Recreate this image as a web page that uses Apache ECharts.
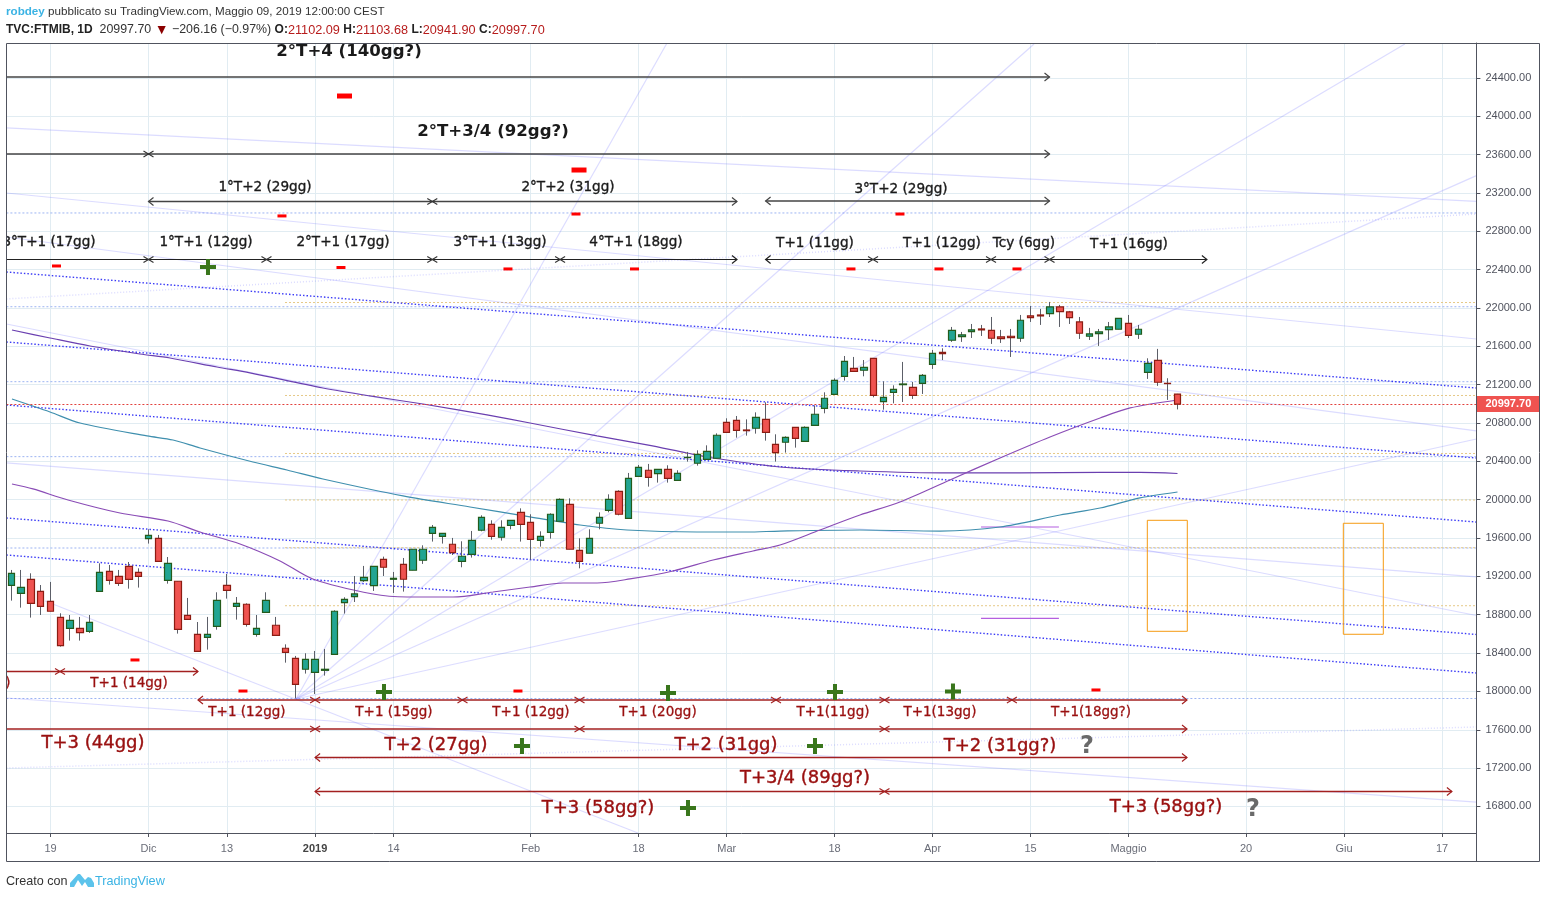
<!DOCTYPE html>
<html>
<head>
<meta charset="utf-8">
<title>FTMIB</title>
<script src="https://cdn.jsdelivr.net/npm/echarts@6/dist/echarts.min.js"></script>
<style>
html, body { margin: 0; padding: 0; background: #fff; }
#main { width: 1546px; height: 898px; }
</style>
</head>
<body>
<div id="main"></div>
<script>
// bar index on the x axis, one label per tick
var tickIndex = [4, 14, 22, 31, 39, 53, 64, 73, 84, 94, 104, 114, 126, 136, 146];
var tickLabels = ['19', 'Dic', '13', '2019', '14', 'Feb', '18', 'Mar', '18', 'Apr', '15', 'Maggio', '20', 'Giu', '17'];
var priceTicks = [16800, 17200, 17600, 18000, 18400, 18800, 19200, 19600, 20000, 20400, 20800, 21200, 21600, 22000, 22400, 22800, 23200, 23600, 24000, 24400];
var lastPrice = 20997.70;

// open, close, low, high
var candles = [
  [19107,19232,18947,19267],[19023,19086,18874,19267],[19169,18919,18770,19232],[19044,18888,18797,19110],
  [18940,18836,18836,19142],[18773,18478,18467,18815],[18658,18742,18530,18797],[18658,18613,18530,18777],
  [18627,18721,18610,18797],[19044,19242,19044,19336],[19253,19159,19114,19319],[19201,19128,19100,19267],
  [19305,19169,19072,19350],[19242,19201,19083,19284],[19594,19628,19542,19691],[19597,19357,19354,19632],
  [19159,19336,19124,19402],[19149,18648,18603,19149],[18794,18752,18752,18975],[18596,18418,18418,18724],
  [18564,18596,18436,18777],[18679,18950,18644,19034],[19107,19055,18968,19225],[18888,18919,18749,18985],
  [18909,18700,18676,18919],[18596,18658,18571,18797],[18825,18950,18825,19034],[18690,18585,18585,18777],
  [18450,18408,18300,18491],[18345,18074,17928,18370],[18231,18335,18186,18398],[18199,18335,17973,18422],
  [18220,18231,18165,18443],[18387,18836,18387,18846],[18926,18961,18812,18982],[18989,19017,18933,19204],
  [19156,19190,19142,19309],[19104,19305,19048,19305],[19378,19295,19204,19406],[19170,19180,19027,19246],
  [19326,19170,19041,19392],[19264,19483,19264,19483],[19368,19483,19330,19524],[19649,19712,19563,19736],
  [19618,19649,19542,19649],[19535,19448,19423,19601],[19357,19410,19295,19566],[19430,19576,19396,19674],
  [19681,19816,19670,19837],[19743,19618,19583,19785],[19608,19712,19573,19785],[19733,19785,19691,19785],
  [19868,19743,19563,19910],[19764,19587,19375,19848],[19576,19618,19510,19670],[19660,19848,19594,19858],
  [19775,20004,19775,20014],[19952,19483,19483,20014],[19472,19357,19284,19597],[19441,19597,19441,19691],
  [19754,19816,19691,19868],[19889,20004,19868,20056],[20087,19848,19837,20098],[19806,20223,19806,20279],
  [20244,20338,20244,20362],[20307,20233,20136,20373],[20272,20317,20178,20317],[20317,20223,20178,20359],
  [20202,20275,20202,20307],[20439,20442,20397,20498],[20380,20473,20355,20515],[20421,20505,20421,20567],
  [20432,20672,20432,20692],[20807,20703,20703,20849],[20828,20724,20647,20873],[20727,20720,20668,20838],
  [20745,20859,20689,20911],[20838,20703,20616,21016],[20578,20491,20397,20682],[20599,20651,20491,20661],
  [20755,20640,20543,20755],[20609,20755,20609,20765],[20776,20891,20776,20984],[20953,21058,20901,21120],
  [21099,21245,21099,21266],[21287,21443,21242,21499],[21370,21339,21339,21489],[21350,21381,21287,21457],
  [21475,21089,21068,21475],[21023,21068,20939,21235],[21120,21151,21005,21193],[21200,21207,21019,21437],
  [21172,21089,21051,21228],[21214,21297,21103,21311],[21412,21527,21364,21562],[21537,21523,21457,21579],
  [21663,21767,21646,21802],[21701,21719,21646,21750],[21753,21771,21687,21833],[21781,21771,21708,21823],
  [21767,21684,21625,21906],[21698,21680,21635,21771],[21705,21691,21489,21781],[21684,21872,21646,21927],
  [21917,21899,21854,22021],[21927,21917,21823,21990],[21941,22011,21906,22063],[22011,21962,21802,22032],
  [21959,21899,21833,21969],[21854,21736,21677,21906],[21705,21729,21666,21792],[21733,21750,21604,21781],
  [21774,21802,21666,21854],[21778,21892,21778,21892],[21840,21715,21687,21927],[21726,21778,21677,21823],
  [21329,21423,21260,21475],[21454,21225,21187,21573],[21214,21211,21041,21267],[21102.09,20997.70,20941.90,21103.68]
];

// moving averages, [bar, price]
var maLong = [[0.07,21770],[3.95,21687],[8.03,21603],[13.13,21520],[16.19,21478],[20.99,21384],[24.35,21322],[31.8,21165],[36.6,21082],[42.01,20998],[48.54,20884],[52.93,20800],[59.77,20665],[64.87,20571],[68.95,20487],[71.61,20435],[78.44,20341],[86.6,20299],[95.78,20279],[102.92,20279],[111.1,20284],[115.17,20284],[119,20273]];
var maMid = [[0.07,21050],[3.95,20915],[7.01,20800],[13.85,20665],[16.5,20623],[19.26,20539],[24.66,20393],[28.13,20310],[31.8,20216],[39.97,20039],[46.81,19924],[52.93,19820],[58.03,19736],[62.83,19684],[69.97,19663],[75.07,19663],[78.44,19673],[86.6,19684],[94.76,19673],[100.89,19715],[107.01,19840],[111.1,19913],[115.17,20018],[119,20080]];
var maShort = [[0.07,20164],[2.21,20112],[5.79,19997],[11.09,19861],[15.99,19778],[19.26,19663],[23.34,19538],[27.42,19361],[30.77,19173],[36.91,19016],[40.38,18985],[45.07,18985],[49.15,19037],[52.93,19089],[56.3,19131],[59.77,19131],[63.13,19173],[67.52,19256],[71.61,19371],[75.68,19465],[78.44,19527],[82.52,19684],[86.6,19840],[90.68,19976],[95.78,20206],[100.89,20435],[105.99,20654],[111.1,20852],[114.17,20957],[119,21040]];

// drawn trend lines, [bar0, price0, bar1, price1]
var channelLines = [[-0.5,22375,149.5,21165],[-0.5,21645,149.5,20435],[-0.5,20988,149.5,19767],[-0.5,19809,149.5,18594],[-0.5,19423,149.5,18192]];
var paleLines = [
  [-0.5,23878,149.5,23111],[-0.5,23199,149.5,21676],[-0.5,21833,149.5,18792],[-0.5,22740,149.5,20717],[-0.5,20383,149.5,19194],
  [3.44,18943,63.94,16523],[-0.5,17931,149.5,16846],
  [29.05,17921,66.91,24764],[29.05,17921,104.36,24754],[29.05,17921,142.2,24754],[29.05,17921,149.5,23380],[29.05,17921,149.5,20633]
];
var paleDotted = [[-0.5,17201,149.5,17629],[-0.5,22094,149.5,22980]];
var blueLevels = [22991, 22013, 21231, 20449, 19496, 17926];
var yellowLevels = [22057, 21087, 20482, 19997, 19499, 18894];
var yellowStart = 27.93;
var violetSegments = [[98.95,19715,106.9,19715],[98.95,18761,106.9,18761]];
var boxes = [[115.92,19785,120,18627],[135.92,19754,140,18596]];

// time spans, [bar0, bar1, price, arrow at start, arrow at end]
var blackSpansHeavy = [[-0.5,105.94,24410,0,1],[-0.5,105.94,23606,0,1],[14,74.05,23111,1,1],[76.97,105.94,23116,1,1]];
var blackSpans = [[-0.5,74.05,22506,0,1],[76.97,122,22506,1,1]];
var redSpans = [[-0.5,19.05,18208,0,1],[19.05,119.97,17910,1,1],[-0.5,119.97,17608,0,1],[31,119.97,17311,1,1],[31,147,16956,1,1]];
var blackCrosses = [[14,23606],[42.96,23111],[14,22506],[26.04,22506],[42.96,22506],[56,22506],[87.93,22506],[99.97,22506],[105.94,22506]];
var redCrosses = [[4.97,18208],[31,17910],[46.04,17910],[57.98,17910],[78.03,17910],[89.1,17910],[102.1,17910],[31,17608],[57.98,17608],[89.1,17608],[89.1,16956]];

// notes, [bar, price, text]
var blackLarge = [[34.46,24691,'2°T+4 (140gg?)'],[49.15,23857,'2°T+3/4 (92gg?)']];
var blackSmall = [[25.89,23273,'1°T+2 (29gg)'],[56.81,23273,'2°T+2 (31gg)'],[90.79,23262,'3°T+2 (29gg)'],[3.85,22699,'3°T+1 (17gg)'],[19.87,22699,'1°T+1 (12gg)'],[33.85,22699,'2°T+1 (17gg)'],[49.87,22699,'3°T+1 (13gg)'],[63.74,22699,'4°T+1 (18gg)'],[82.01,22694,'T+1 (11gg)'],[94.97,22694,'T+1 (12gg)'],[103.33,22694,'Tcy (6gg)'],[114.05,22688,'T+1 (16gg)']];
var redSmall = [[-0.34,18103,')'],[12.01,18103,'T+1 (14gg)'],[24.05,17801,'T+1 (12gg)'],[39.05,17801,'T+1 (15gg)'],[53.03,17801,'T+1 (12gg)'],[65.99,17801,'T+1 (20gg)'],[83.85,17801,'T+1(11gg)'],[94.76,17801,'T+1(13gg)'],[110.17,17801,'T+1(18gg?)']];
var redLarge = [[8.34,17483,'T+3 (44gg)'],[43.34,17457,'T+2 (27gg)'],[72.93,17457,'T+2 (31gg)'],[100.89,17452,'T+2 (31gg?)'],[80.99,17118,'T+3/4 (89gg?)'],[59.87,16805,'T+3 (58gg?)'],[117.82,16810,'T+3 (58gg?)']];
var questionMarks = [[109.77,17441,'?'],[126.7,16784,'?']];
var minusLarge = [[34,24211],[57.93,23439]];
var minusSmall = [[27.62,22960],[57.62,22980],[90.68,22980],[4.61,22438],[33.64,22422],[50.68,22407],[63.59,22407],[85.68,22407],[94.66,22407],[102.62,22407],[12.62,18328],[23.64,18004],[51.7,18004],[110.68,18015]];
var plusMarks = [[20.07,22428],[38.03,17994],[67.01,17983],[52.11,17431],[82.01,17431],[69.05,16784],[84.05,17994],[96.09,18000]];

var FONT = '"DejaVu Sans"';
var AXIS_FONT = '"Liberation Sans"';

function segmentSeries(rows, style) {
  return rows.map(function (r) {
    return {
      type: 'line', silent: true, showSymbol: false, symbol: 'none', animation: false,
      data: [[r[0], r[1]], [r[2], r[3]]], lineStyle: style, z: 2
    };
  });
}

function maSeries(points, color) {
  return {
    type: 'line', silent: true, showSymbol: false, symbol: 'none', animation: false, smooth: 0.3,
    data: points, lineStyle: { color: color, width: 1.2 }, z: 3
  };
}

function spanSeries(rows, color, width) {
  return {
    type: 'custom', silent: true, animation: false, clip: true, z: 6,
    data: rows,
    encode: { x: [0, 1], y: 2 },
    renderItem: function (params, api) {
      var a = api.coord([api.value(0), api.value(2)]);
      var b = api.coord([api.value(1), api.value(2)]);
      var style = { stroke: color, lineWidth: width, fill: null };
      var kids = [{ type: 'line', shape: { x1: a[0], y1: a[1], x2: b[0], y2: b[1] }, style: style }];
      if (api.value(3)) {
        kids.push({ type: 'polyline', shape: { points: [[a[0] + 5, a[1] - 4], [a[0], a[1]], [a[0] + 5, a[1] + 4]] }, style: { stroke: color, lineWidth: 1.2, fill: null } });
      }
      if (api.value(4)) {
        kids.push({ type: 'polyline', shape: { points: [[b[0] - 5, b[1] - 4], [b[0], b[1]], [b[0] - 5, b[1] + 4]] }, style: { stroke: color, lineWidth: 1.2, fill: null } });
      }
      return { type: 'group', children: kids };
    }
  };
}

function crossSeries(rows, color) {
  return {
    type: 'custom', silent: true, animation: false, clip: true, z: 7,
    data: rows,
    encode: { x: 0, y: 1 },
    renderItem: function (params, api) {
      var c = api.coord([api.value(0), api.value(1)]);
      var style = { stroke: color, lineWidth: 1.1, fill: null };
      return {
        type: 'group', children: [
          { type: 'line', shape: { x1: c[0] - 5, y1: c[1] - 3, x2: c[0] + 5, y2: c[1] + 3 }, style: style },
          { type: 'line', shape: { x1: c[0] - 5, y1: c[1] + 3, x2: c[0] + 5, y2: c[1] - 3 }, style: style }
        ]
      };
    }
  };
}

function noteSeries(rows, color, font, heavy) {
  return {
    type: 'custom', silent: true, animation: false, clip: true, z: 8,
    data: rows.map(function (r) { return [r[0], r[1]]; }),
    encode: { x: 0, y: 1 },
    renderItem: function (params, api) {
      var c = api.coord([api.value(0), api.value(1)]);
      return {
        type: 'text', x: c[0], y: c[1] + 2,
        style: { text: rows[params.dataIndex][2], fill: color, font: font, align: 'center', verticalAlign: 'middle', stroke: color, lineWidth: heavy }
      };
    }
  };
}

function markSeries(rows, symbol, size, color) {
  return {
    type: 'scatter', silent: true, animation: false, symbol: symbol, symbolSize: size,
    data: rows, itemStyle: { color: color, opacity: 1 }, z: 7
  };
}

var wickData = candles.map(function (c, i) { return [i, c[0], c[1], c[2], c[3]]; });
var bodyData = candles.map(function (c, i) {
  return [i, c[0], c[1], Math.min(c[0], c[1]), Math.max(c[0], c[1])];
});

var series = [];
series = series.concat(segmentSeries(blueLevels.map(function (p) { return [-0.5, p, 149.5, p]; }), { color: '#9db4f2', width: 1, type: [2, 2] }));
series = series.concat(segmentSeries(yellowLevels.map(function (p) { return [yellowStart, p, 149.5, p]; }), { color: '#e6c987', width: 1, type: [2, 2] }));
series = series.concat(segmentSeries(paleLines, { color: 'rgba(110,110,255,0.24)', width: 1.2 }));
series = series.concat(segmentSeries(paleDotted, { color: 'rgba(110,110,255,0.24)', width: 1.5, type: [1, 2] }));
series = series.concat(segmentSeries(channelLines, { color: 'rgba(25,25,245,0.85)', width: 1.4, type: [1.5, 2] }));
series = series.concat(segmentSeries(violetSegments, { color: '#b45fe0', width: 1.2 }));
series.push(maSeries(maLong, '#6a3fb0'));
series.push(maSeries(maMid, '#3f8fae'));
series.push(maSeries(maShort, '#8a4cb6'));
series.push({
  type: 'custom', silent: true, animation: false, clip: true, z: 3,
  data: boxes,
  encode: { x: [0, 2], y: [1, 3] },
  renderItem: function (params, api) {
    var a = api.coord([api.value(0), api.value(1)]);
    var b = api.coord([api.value(2), api.value(3)]);
    return {
      type: 'rect', shape: { x: a[0], y: a[1], width: b[0] - a[0], height: b[1] - a[1] },
      style: { stroke: '#f59a12', lineWidth: 1, fill: null }
    };
  }
});
series.push({
  type: 'candlestick', silent: true, animation: false, barWidth: 1, data: wickData, z: 4,
  itemStyle: { color: '#5c5f68', color0: '#5c5f68', borderColor: '#5c5f68', borderColor0: '#5c5f68', borderColorDoji: '#5c5f68', borderWidth: 1 },
  markLine: {
    silent: true, symbol: 'none', animation: false,
    data: [{ yAxis: lastPrice }],
    lineStyle: { color: '#e2403c', width: 1, type: [2, 2] },
    label: {
      position: 'end', distance: 0, formatter: lastPrice.toFixed(2), color: '#fff', backgroundColor: '#ef5350',
      fontFamily: AXIS_FONT, fontSize: 11, fontWeight: 'bold', padding: [3, 7, 2, 9], width: 47, align: 'left'
    }
  }
});
series.push({
  type: 'candlestick', silent: true, animation: false, barWidth: 7, data: bodyData, z: 5,
  itemStyle: { color: '#22a592', color0: '#ef5350', borderColor: '#235b1b', borderColor0: '#8c1c12', borderColorDoji: '#235b1b', borderWidth: 1.2 }
});
series.push(spanSeries(blackSpansHeavy, '#444', 1.5));
series.push(spanSeries(blackSpans, '#222', 1.1));
series.push(spanSeries(redSpans, '#a32020', 1.4));
series.push(crossSeries(blackCrosses, '#333'));
series.push(crossSeries(redCrosses, '#a32020'));
series.push(markSeries(minusLarge, 'rect', [15, 5], '#f00'));
series.push(markSeries(minusSmall, 'rect', [9, 3], '#f00'));
series.push(markSeries(plusMarks, 'path://M6 0H10V6H16V10H10V16H6V10H0V6H6Z', 16, '#39761c'));
series.push(noteSeries(blackLarge, '#1a1a1a', 'bold 16.6px ' + FONT, 0));
series.push(noteSeries(blackSmall, '#1a1a1a', '13.6px ' + FONT, 0.35));
series.push(noteSeries(redSmall, '#990f0f', '13.5px ' + FONT, 0.3));
series.push(noteSeries(redLarge, '#990f0f', '18px ' + FONT, 0.4));
series.push(noteSeries(questionMarks, '#6a6a6a', 'bold 24px ' + FONT, 0));

var chart = echarts.init(document.getElementById('main'), null, { renderer: 'canvas' });
chart.setOption({
  animation: false,
  backgroundColor: '#fff',
  grid: { left: 6.4, top: 43, width: 1470, height: 790 },
  xAxis: {
    type: 'value', min: -0.5, max: 149.5,
    axisLine: { onZero: false, lineStyle: { color: '#50535e', width: 1 } },
    axisTick: { customValues: tickIndex, length: 4, lineStyle: { color: '#50535e' } },
    axisLabel: {
      customValues: tickIndex, margin: 10, color: '#6a6d78', fontFamily: AXIS_FONT, fontSize: 11,
      formatter: function (v) {
        var s = tickLabels[tickIndex.indexOf(v)];
        return s === '2019' ? '{y|' + s + '}' : s;
      },
      rich: { y: { color: '#444', fontFamily: AXIS_FONT, fontSize: 11, fontWeight: 'bold' } }
    },
    splitLine: { show: true, lineStyle: { color: '#e1ecf2', width: 1 } }
  },
  yAxis: {
    type: 'value', position: 'right', min: 16523, max: 24764,
    axisLine: { show: true, onZero: false, lineStyle: { color: '#50535e', width: 1 } },
    axisTick: { show: true, customValues: priceTicks, length: 4, lineStyle: { color: '#50535e' } },
    axisLabel: {
      customValues: priceTicks, margin: 9, color: '#50535e', fontFamily: AXIS_FONT, fontSize: 11,
      formatter: function (v) { return v.toFixed(2); }
    },
    splitLine: { show: true, lineStyle: { color: '#e1ecf2', width: 1 } }
  },
  series: series,
  graphic: [
    { type: 'rect', silent: true, shape: { x: 6.5, y: 43.5, width: 1533, height: 818 }, style: { stroke: '#50535e', lineWidth: 1, fill: null }, z: 20 },
    { type: 'line', silent: true, shape: { x1: 1476.5, y1: 43, x2: 1476.5, y2: 861 }, style: { stroke: '#50535e', lineWidth: 1 }, z: 20 },
    {
      type: 'text', silent: true, x: 6, y: 6,
      style: {
        text: '{u|robdey} pubblicato su TradingView.com, Maggio 09, 2019 12:00:00 CEST',
        font: '11.65px ' + AXIS_FONT, fill: '#333',
        rich: { u: { font: 'bold 11.65px ' + AXIS_FONT, fill: '#3bb3e4' } }
      }
    },
    {
      type: 'text', silent: true, x: 6, y: 23,
      style: {
        text: '{b|TVC:FTMIB, 1D}  20997.70 {d|▼} −206.16 (−0.97%) {b|O:}{r|21102.09} {b|H:}{r|21103.68} {b|L:}{r|20941.90} {b|C:}{r|20997.70}',
        font: '12.4px ' + AXIS_FONT, fill: '#333',
        rich: {
          b: { font: 'bold 12px ' + AXIS_FONT, fill: '#222' },
          r: { font: '12.7px ' + AXIS_FONT, fill: '#b71c1c' },
          d: { font: '14px ' + AXIS_FONT, fill: '#8b0000' }
        }
      }
    },
    { type: 'text', silent: true, x: 6, y: 875, style: { text: 'Creato con', font: '12.6px ' + AXIS_FONT, fill: '#333' } },
    {
      type: 'polygon', silent: true,
      shape: { points: [[70, 887], [70, 883], [78, 874], [80, 874], [85, 880], [88, 877], [91, 878], [94, 883], [94, 887], [88, 887], [85, 882], [82, 886], [78, 880], [74, 887]] },
      style: { fill: '#5cc3eb' }
    },
    { type: 'text', silent: true, x: 95, y: 875, style: { text: 'TradingView', font: '12.7px ' + AXIS_FONT, fill: '#3bb3e4' } }
  ]
});
</script>
</body>
</html>
